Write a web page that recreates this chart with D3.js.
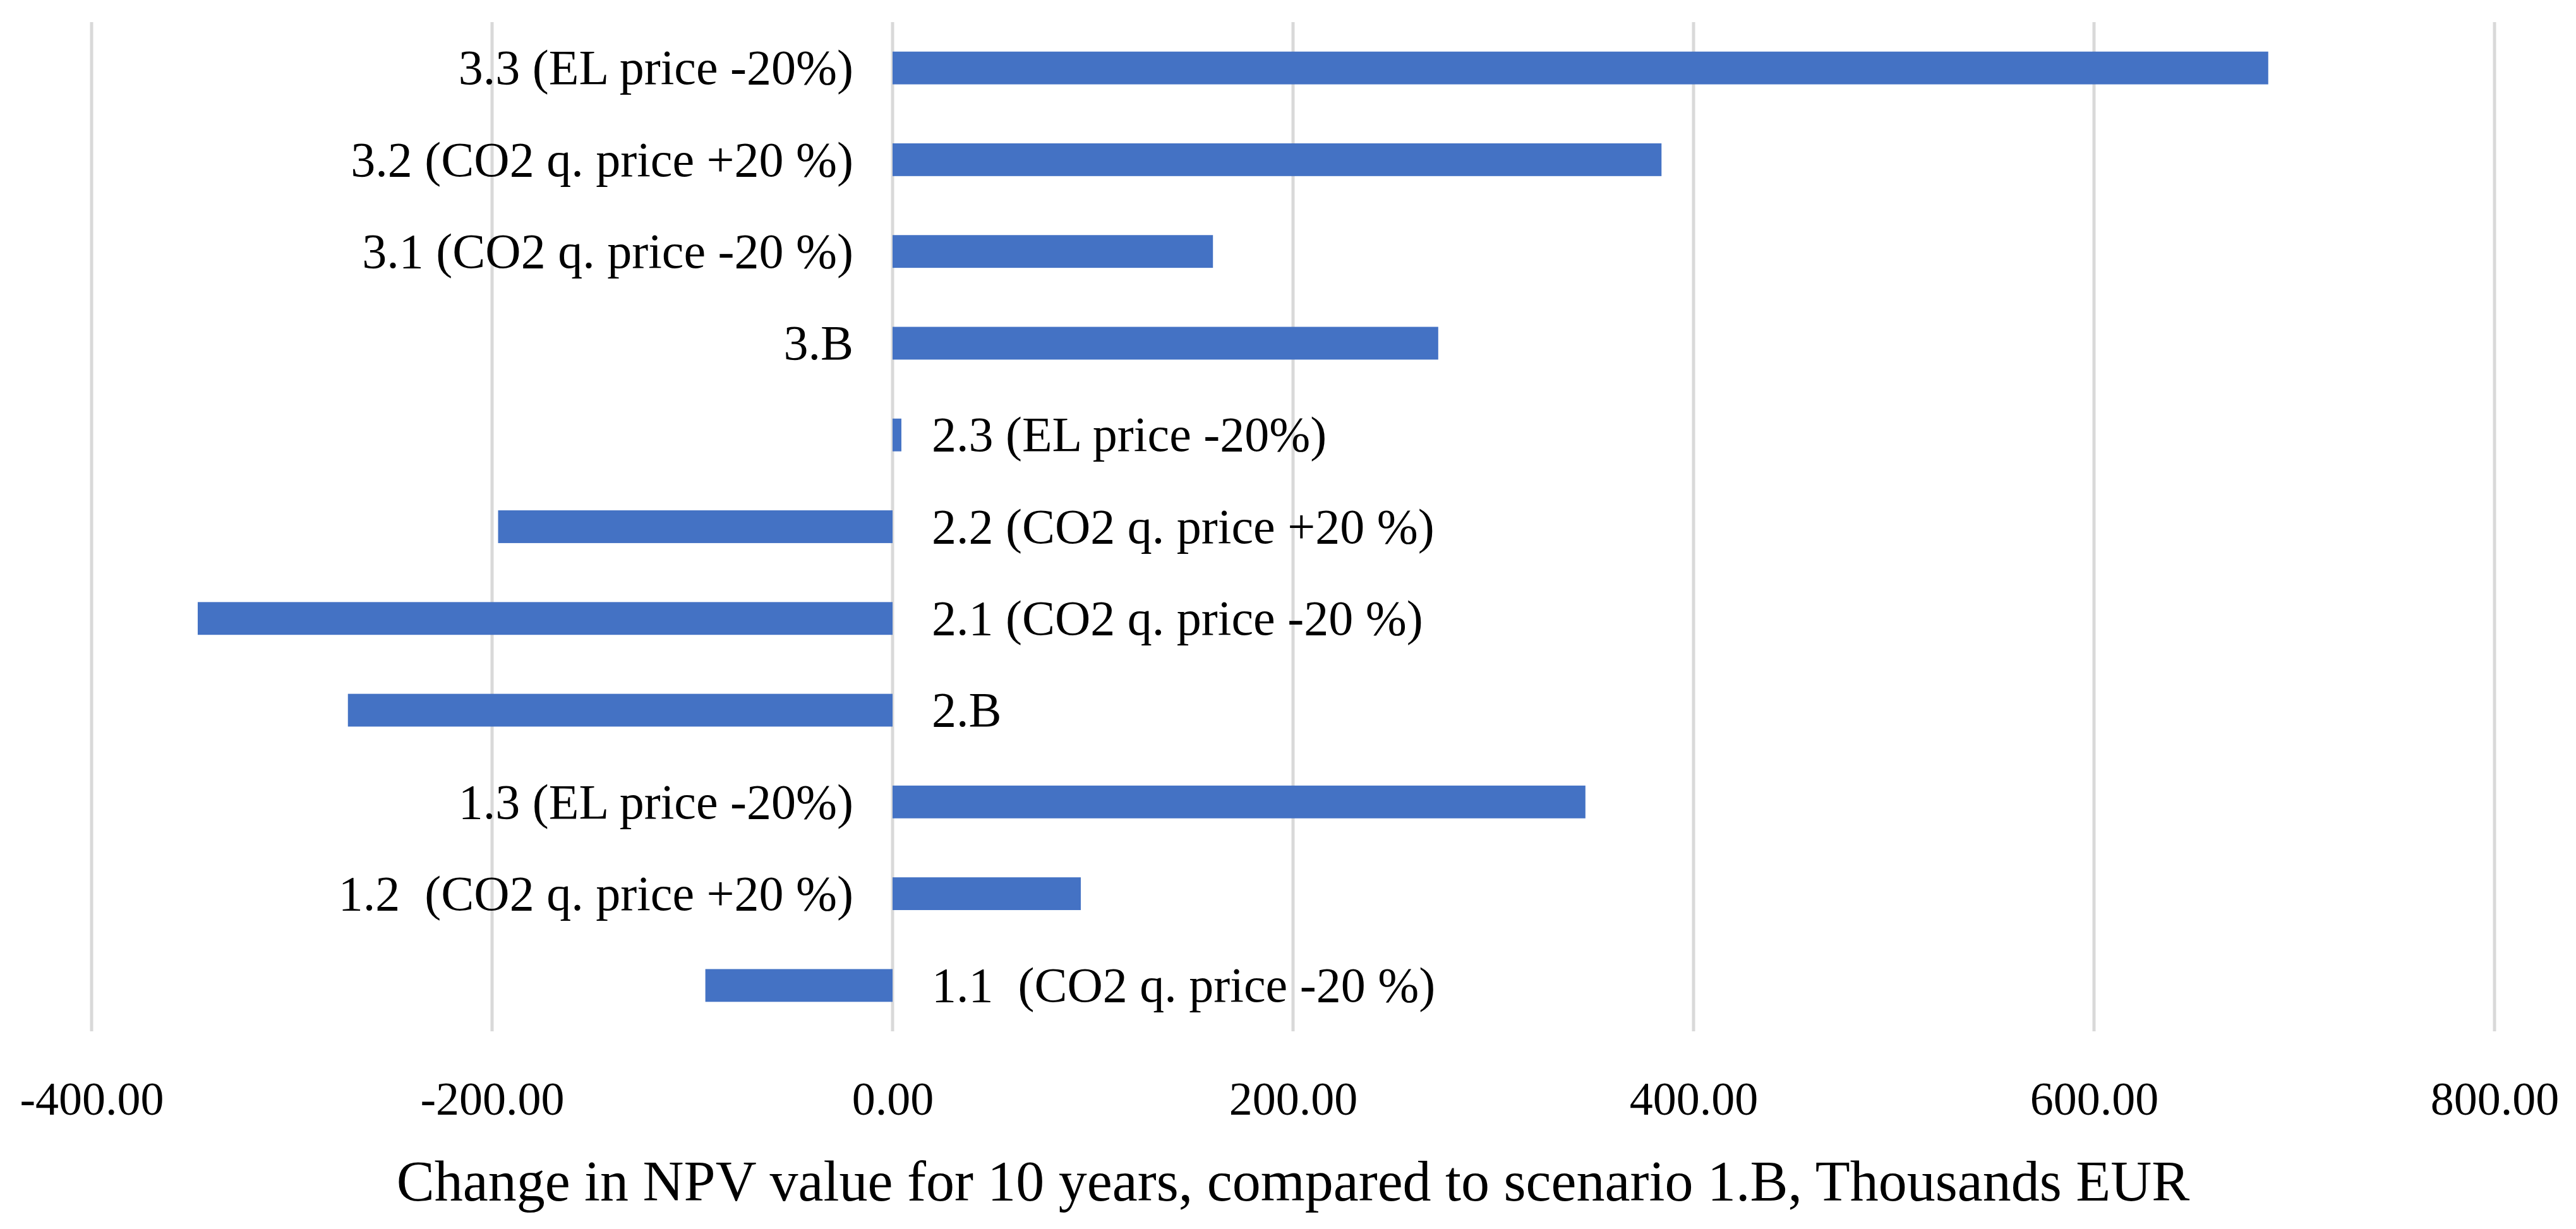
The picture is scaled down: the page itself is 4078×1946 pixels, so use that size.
<!DOCTYPE html>
<html>
<head>
<meta charset="utf-8">
<script src="https://cdn.jsdelivr.net/npm/d3@7"></script>
<style>
  body { margin: 0; background: #fff; }
  svg text { font-family: "Liberation Serif", "Times New Roman", serif; fill: #000; white-space: pre; }
</style>
</head>
<body>
<div id="chart"></div>
<script>
// scenarios, top to bottom as drawn
const scenarios = [
  "3.3 (EL price -20%)",
  "3.2 (CO2 q. price +20 %)",
  "3.1 (CO2 q. price -20 %)",
  "3.B",
  "2.3 (EL price -20%)",
  "2.2 (CO2 q. price +20 %)",
  "2.1 (CO2 q. price -20 %)",
  "2.B",
  "1.3 (EL price -20%)",
  "1.2  (CO2 q. price +20 %)",
  "1.1  (CO2 q. price -20 %)"
];
// change in NPV, thousands EUR
const npvChange = [687, 384, 160, 272.5, 4.4, -197, -347, -272, 346, 94, -93.5];
// which side of the zero line the label was put on
const labelSide = ["left", "left", "left", "left", "right", "right", "right", "right", "left", "left", "right"];
const xTicks = [-400, -200, 0, 200, 400, 600, 800];
const xTitle = "Change in NPV value for 10 years, compared to scenario 1.B, Thousands EUR";

const W = 4078, H = 1946;
let margin = {top: 35, bottom: 313, left: 145, right: 129};
let width = W - margin.left - margin.right;
let height = H - margin.top - margin.bottom;

const data = scenarios.map((s, i) => ({name: s, value: npvChange[i], side: labelSide[i]}));

let svg = d3.select("#chart").append("svg")
  .attr("width", W)
  .attr("height", H);

let g = svg.append("g")
  .attr("transform", `translate(${margin.left}, ${margin.top})`);

let x = d3.scaleLinear()
  .domain([xTicks[0], xTicks[xTicks.length - 1]])
  .range([0, width]);

// gap width 180% like the original
let y = d3.scaleBand()
  .domain(scenarios)
  .range([0, height])
  .paddingInner(0.643)
  .paddingOuter(0.3215);

// grid lines
g.selectAll(".grid")
  .data(xTicks)
  .enter()
  .append("line")
  .attr("class", "grid")
  .attr("x1", d => x(d))
  .attr("x2", d => x(d))
  .attr("y1", 0)
  .attr("y2", height)
  .attr("stroke", "#d9d9d9")
  .attr("stroke-width", 5);

// tick labels (plain hyphen, as in the original)
const fmt = d3.format(".2f");
let xAxis = d3.axisBottom(x)
  .tickValues(xTicks)
  .tickFormat(d => fmt(d).replace("\u2212", "-"))
  .tickSize(0)
  .tickPadding(0);

let ax = g.append("g")
  .attr("transform", `translate(0, ${height})`)
  .call(xAxis);
ax.select(".domain").remove();
ax.selectAll("text")
  .attr("y", 132)
  .attr("dy", 0)
  .style("font-size", "74px")
  .style("font-family", '"Liberation Serif", serif')
  .attr("fill", "#000");

// bars
g.selectAll(".bar")
  .data(data)
  .enter()
  .append("rect")
  .attr("class", "bar")
  .attr("x", d => x(Math.min(0, d.value)))
  .attr("width", d => Math.abs(x(d.value) - x(0)))
  .attr("y", d => y(d.name))
  .attr("height", y.bandwidth())
  .attr("fill", "#4472c4");

// category labels next to the zero line
g.selectAll(".cat")
  .data(data)
  .enter()
  .append("text")
  .attr("class", "cat")
  .attr("x", d => d.side == "left" ? x(0) - 62 : x(0) + 62)
  .attr("y", d => y(d.name) + y.bandwidth() / 2)
  .attr("dy", "0.33em")
  .attr("text-anchor", d => d.side == "left" ? "end" : "start")
  .style("font-size", "78px")
  .text(d => d.name);

// axis title
g.append("text")
  .attr("x", width / 2)
  .attr("y", height + 268)
  .attr("text-anchor", "middle")
  .style("font-size", "90px")
  .text(xTitle);
</script>
</body>
</html>
